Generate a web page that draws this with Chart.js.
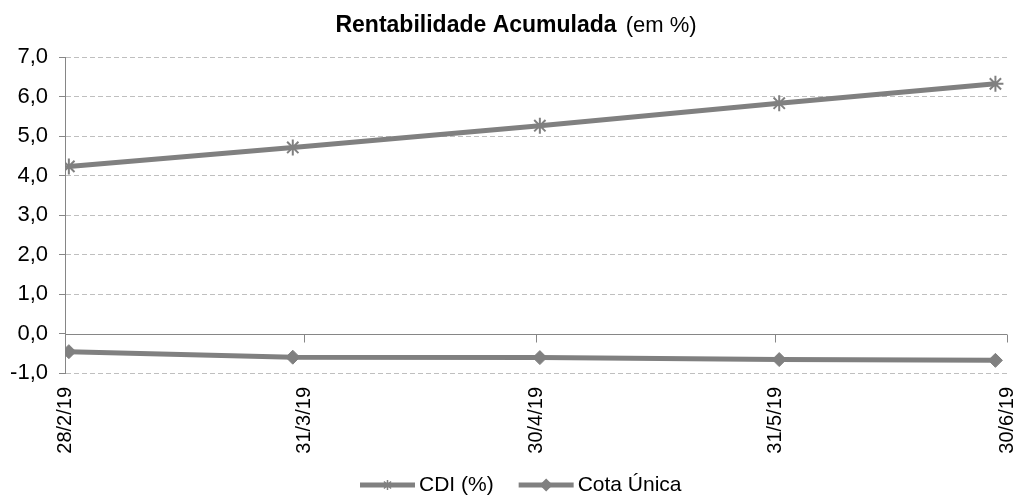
<!DOCTYPE html>
<html>
<head>
<meta charset="utf-8">
<title>Rentabilidade Acumulada</title>
<script src="https://cdn.jsdelivr.net/npm/chart.js@4.4.1/dist/chart.umd.min.js"></script>
<style>
  html, body { margin: 0; padding: 0; background: #fff; }
  #chart { display: block; }
</style>
</head>
<body>
<canvas id="chart" width="1025" height="500"></canvas>
<script>
(function() {
  'use strict';

  // Datas dos pontos (último dia útil de cada mês)
  const pointDates = ['28/2/19', '29/3/19', '30/4/19', '31/5/19', '28/6/19'];
  const cdiValues = [4.23, 4.71, 5.26, 5.83, 6.32];
  const cotaUnicaValues = [-0.46, -0.60, -0.61, -0.66, -0.68];

  // Rótulos do eixo X
  const tickDates = ['28/2/19', '31/3/19', '30/4/19', '31/5/19', '30/6/19'];

  const seriesNames = ['CDI (%)', 'Cota Única'];
  const titleBold = 'Rentabilidade Acumulada';
  const titleNormal = '(em %)';

  const FONT = '"Liberation Sans", Arial, sans-serif';
  const GRAY = '#808080';
  const AXIS = '#868686';
  const GRID = '#bfbfbf';

  /**
   * Converte 'd/m/aa' em número de dias (UTC)
   */
  function toDay(str) {
    const parts = str.split('/').map(Number);
    return Date.UTC(2000 + parts[2], parts[1] - 1, parts[0]) / 86400000;
  }
  const day0 = toDay(tickDates[0]);
  const dayOf = s => toDay(s) - day0;

  // Eixo de datas: cada ponto fica no meio do seu dia
  const tickValues = tickDates.map(s => dayOf(s) - 0.5);

  const fmtY = v => v.toFixed(1).replace('.', ',');

  // Título com parte em negrito
  const titlePlugin = {
    id: 'titleMixed',
    afterDraw(chart) {
      const ctx = chart.ctx;
      ctx.save();
      ctx.fillStyle = '#000';
      ctx.textBaseline = 'alphabetic';
      ctx.textAlign = 'left';
      ctx.font = 'bold 23px ' + FONT;
      const wb = ctx.measureText(titleBold).width;
      ctx.font = '22px ' + FONT;
      const gap = 9;
      const wn = ctx.measureText(titleNormal).width;
      const x0 = 516 - (wb + gap + wn) / 2;
      ctx.font = 'bold 23px ' + FONT;
      ctx.fillText(titleBold, x0, 32);
      ctx.font = '22px ' + FONT;
      ctx.fillText(titleNormal, x0 + wb + gap, 32);
      ctx.restore();
    }
  };

  // Linha do zero com marcas do eixo X
  const zeroAxisPlugin = {
    id: 'zeroAxis',
    beforeDatasetsDraw(chart) {
      const ctx = chart.ctx;
      const x = chart.scales.x;
      const y0 = Math.round(chart.scales.y.getPixelForValue(0)) + 0.5;
      ctx.save();
      ctx.strokeStyle = AXIS;
      ctx.lineWidth = 1;
      ctx.beginPath();
      ctx.moveTo(chart.chartArea.left, y0);
      ctx.lineTo(chart.chartArea.right, y0);
      tickValues.forEach((v, i) => {
        if (i === 0) return;
        const px = Math.round(x.getPixelForValue(v)) + 0.5;
        ctx.moveTo(px, y0);
        ctx.lineTo(px, y0 + 8);
      });
      ctx.stroke();
      ctx.restore();
    }
  };

  // Legenda no estilo Excel: linha + marcador
  const legendPlugin = {
    id: 'excelLegend',
    afterDraw(chart) {
      const ctx = chart.ctx;
      const y = 485;
      let x = 360;
      ctx.save();
      ctx.font = '21px ' + FONT;
      ctx.textBaseline = 'middle';
      ctx.textAlign = 'left';
      chart.data.datasets.forEach((ds, i) => {
        const len = 55;
        ctx.strokeStyle = GRAY;
        ctx.fillStyle = GRAY;
        ctx.lineWidth = 5;
        ctx.beginPath();
        ctx.moveTo(x, y);
        ctx.lineTo(x + len, y);
        ctx.stroke();
        ctx.lineWidth = 1.5;
        Chart.helpers.drawPoint(ctx, {
          pointStyle: ds.pointStyle,
          radius: ds.pointStyle === 'star' ? 5 : 5.5,
          borderWidth: 1.5,
          rotation: 0
        }, x + len / 2, y);
        ctx.fillStyle = '#000';
        ctx.fillText(seriesNames[i], x + len + 4, y);
        x += len + 4 + ctx.measureText(seriesNames[i]).width + 25;
      });
      ctx.restore();
    }
  };

  function buildPoints(values) {
    return values.map((v, i) => ({ x: dayOf(pointDates[i]), y: v }));
  }

  function initializeChart() {
    const canvas = document.getElementById('chart');
    new Chart(canvas, {
      type: 'line',
      data: {
        datasets: [
          {
            label: seriesNames[0],
            data: buildPoints(cdiValues),
            borderColor: GRAY,
            backgroundColor: GRAY,
            borderWidth: 5,
            pointStyle: 'star',
            pointRadius: 8,
            pointBorderWidth: 2,
            pointBorderColor: GRAY,
            tension: 0
          },
          {
            label: seriesNames[1],
            data: buildPoints(cotaUnicaValues),
            borderColor: GRAY,
            backgroundColor: GRAY,
            borderWidth: 5,
            pointStyle: 'rectRot',
            pointRadius: 7,
            pointBorderWidth: 1,
            pointBorderColor: GRAY,
            pointBackgroundColor: GRAY,
            tension: 0
          }
        ]
      },
      options: {
        responsive: false,
        animation: false,
        devicePixelRatio: 1,
        layout: { padding: { top: 57, right: 18, bottom: 0, left: 0 } },
        plugins: {
          legend: { display: false },
          title: { display: false },
          tooltip: { enabled: false }
        },
        scales: {
          x: {
            type: 'linear',
            min: tickValues[0],
            max: tickValues[tickValues.length - 1],
            afterBuildTicks(scale) {
              scale.ticks = tickValues.map(v => ({ value: v }));
            },
            afterFit(scale) {
              scale.height = 127;
              scale.paddingLeft = 0;
              scale.paddingRight = 0;
            },
            grid: { display: false, drawTicks: false },
            border: { display: false },
            ticks: {
              autoSkip: false,
              maxRotation: 90,
              minRotation: 90,
              padding: 14,
              color: '#000',
              font: { family: FONT, size: 20 },
              callback: (value, index) => tickDates[index]
            }
          },
          y: {
            min: -1,
            max: 7,
            afterFit(scale) {
              scale.width = 65;
              scale.paddingTop = 0;
              scale.paddingBottom = 0;
            },
            grid: {
              color: ctx => (ctx.tick && ctx.tick.value === 0) ? 'rgba(0,0,0,0)' : GRID,
              lineWidth: 1,
              tickLength: 6,
              tickColor: AXIS
            },
            border: { display: true, color: AXIS, width: 1, dash: [5, 3] },
            ticks: {
              stepSize: 1,
              padding: 11,
              color: '#000',
              font: { family: FONT, size: 22 },
              callback: v => fmtY(v)
            }
          }
        }
      },
      plugins: [titlePlugin, zeroAxisPlugin, legendPlugin]
    });
  }

  if (document.readyState === 'loading') {
    document.addEventListener('DOMContentLoaded', initializeChart);
  } else {
    initializeChart();
  }
})();
</script>
</body>
</html>
